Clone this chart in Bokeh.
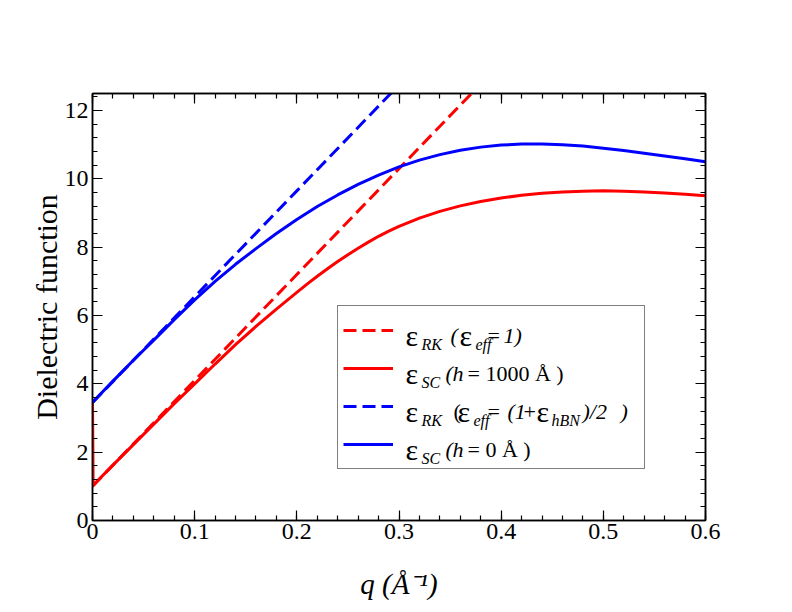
from bokeh.plotting import figure
from bokeh.models import (Range1d, LinearAxis, Legend, LegendItem, Label, FixedTicker)
from bokeh.embed import file_html
from bokeh.resources import INLINE

# ---------------- data ----------------
q_rk = [0.0, 0.1, 0.2, 0.3, 0.4]
eps_rk_vac = [1.0, 4.1, 7.2, 10.3, 13.4]          # eps_RK (eps_eff = 1)
eps_rk_hbn = [3.45, 6.55, 9.65, 12.75, 15.85]     # eps_RK (eps_eff = (1+eps_hBN)/2)

q_sc1000 = [0.0, 0.0003, 0.0006, 0.02, 0.05, 0.08, 0.10, 0.12, 0.14, 0.16,
            0.18, 0.20, 0.21, 0.22, 0.23, 0.24, 0.25, 0.26, 0.27, 0.28,
            0.29, 0.30, 0.32, 0.34, 0.36, 0.38, 0.40, 0.42, 0.44, 0.46,
            0.48, 0.50, 0.52, 0.54, 0.56, 0.58, 0.60]
eps_sc1000 = [3.45, 2.35, 1.03, 1.62, 2.52, 3.42, 4.0, 4.58, 5.15, 5.68,
              6.19, 6.68, 6.92, 7.15, 7.37, 7.58, 7.78, 7.97, 8.15, 8.32,
              8.47, 8.61, 8.85, 9.05, 9.21, 9.34, 9.44, 9.52, 9.58, 9.62,
              9.64, 9.65, 9.64, 9.62, 9.59, 9.55, 9.51]

q_sc0 = [0.0, 0.02, 0.04, 0.06, 0.08, 0.10, 0.12, 0.14, 0.16, 0.18, 0.20,
         0.22, 0.24, 0.26, 0.28, 0.30, 0.32, 0.34, 0.36, 0.38, 0.40, 0.42,
         0.44, 0.46, 0.48, 0.50, 0.52, 0.54, 0.56, 0.58, 0.60]
eps_sc0 = [3.46, 4.08, 4.69, 5.28, 5.88, 6.46, 7.0, 7.5, 7.96, 8.4, 8.81,
           9.19, 9.53, 9.84, 10.11, 10.35, 10.55, 10.71, 10.84, 10.93, 10.99, 11.02,
           11.02, 11.0, 10.96, 10.9, 10.83, 10.75, 10.67, 10.59, 10.5]

x_ticks = [0.0, 0.1, 0.2, 0.3, 0.4, 0.5, 0.6]
x_tick_labels = ["0", "0.1", "0.2", "0.3", "0.4", "0.5", "0.6"]
y_ticks = [0, 2, 4, 6, 8, 10, 12]
y_tick_labels = ["0", "2", "4", "6", "8", "10", "12"]

x_label = "q (Å⁻¹)"
y_label = "Dielectric function"

FONT = "Liberation Serif"

p = figure(frame_width=613, frame_height=427,
           min_border_left=92, min_border_right=80,
           min_border_top=93, min_border_bottom=84,
           x_range=Range1d(0, 0.6), y_range=Range1d(0, 12.5),
           output_backend="svg", toolbar_location=None,
           x_axis_label=x_label, y_axis_label=y_label)
p.grid.visible = False
p.outline_line_color = "black"
p.outline_line_width = 1.5
p.background_fill_color = "white"
p.border_fill_color = "white"

# mirrored axes on top/right
p.add_layout(LinearAxis(), "above")
p.add_layout(LinearAxis(), "right")

x_minor = [i * 0.02 for i in range(31)]
y_minor = [i * 0.4 for i in range(32)]
for ax in p.xaxis:
    ax.ticker = FixedTicker(ticks=x_ticks, minor_ticks=x_minor)
    ax.major_label_overrides = dict(zip(x_ticks, x_tick_labels))
for ax in p.yaxis:
    ax.ticker = FixedTicker(ticks=y_ticks, minor_ticks=y_minor)
    ax.major_label_overrides = dict(zip(y_ticks, y_tick_labels))

for ax in p.xaxis + p.yaxis:
    ax.axis_line_color = "black"
    ax.axis_line_width = 1.5
    ax.major_tick_in = 10
    ax.major_tick_out = 0
    ax.minor_tick_in = 5
    ax.minor_tick_out = 0
    ax.major_tick_line_width = 1.2
    ax.minor_tick_line_width = 1.2
    ax.major_label_text_font = FONT
    ax.major_label_text_font_size = "24px"
    ax.major_label_text_color = "black"
    ax.axis_label_text_font = FONT
    ax.axis_label_text_color = "black"

p.above[0].major_label_text_color = None
p.right[0].major_label_text_color = None

p.below[0].major_label_standoff = 3
p.below[0].axis_label_text_font_size = "29px"
p.below[0].axis_label_text_font_style = "italic"
p.below[0].axis_label_standoff = 26
p.left[0].major_label_standoff = 4
p.left[0].axis_label_text_font_size = "30px"
p.left[0].axis_label_text_font_style = "normal"
p.left[0].axis_label_standoff = -1

# ---------------- curves ----------------
r1 = p.line(q_rk, eps_rk_vac, line_color="red", line_width=3, line_dash="13 6")
r2 = p.line(q_sc1000, eps_sc1000, line_color="red", line_width=3)
r3 = p.line(q_rk, eps_rk_hbn, line_color="blue", line_width=3, line_dash="13 6")
r4 = p.line(q_sc0, eps_sc0, line_color="blue", line_width=3)

legend = Legend(items=[LegendItem(label=" ", renderers=[r]) for r in (r1, r2, r3, r4)],
                location=(245, 51), margin=0, padding=5, spacing=0,
                glyph_width=50, glyph_height=38, label_height=38,
                label_width=236, label_standoff=10,
                border_line_color="black", border_line_width=1.5,
                background_fill_color="white", background_fill_alpha=0.0,
                label_text_font=FONT, label_text_font_size="22px")
p.add_layout(legend)

# ---------------- legend texts (rich text built from pieces) ----------------
legend_pieces = [
    ("ε", 313, 0, "eps"), ("RK", 329, 0, "sub"), ("(", 358, 0, "it"),
    ("ε", 367, 0, "eps"), ("eff", 383, 0, "sub"), ("=", 395, 0, "up"),
    ("1)", 411, 0, "it"),
    ("ε", 313, 1, "eps"), ("SC", 329, 1, "sub"), ("(", 353, 1, "it"),
    ("h", 360, 1, "it"), ("= 1000 Å )", 375, 1, "up"),
    ("ε", 313, 2, "eps"), ("RK", 329, 2, "sub"), ("(", 361, 2, "up"),
    ("ε", 365, 2, "eps"), ("eff", 381, 2, "sub"), ("=", 395, 2, "up"),
    ("(1", 415, 2, "it"), ("+", 431, 2, "up"), ("ε", 444, 2, "eps"),
    ("hBN", 459, 2, "sub"), (")/2", 490, 2, "it"), (")", 528, 2, "it"),
    ("ε", 313, 3, "eps"), ("SC", 329, 3, "sub"), ("(", 353, 3, "it"),
    ("h", 360, 3, "it"), ("= 0 Å )", 375, 3, "up"),
]
row_base = [185, 147, 109, 71]
for txt, x, row, kind in legend_pieces:
    y = row_base[row]
    size, style = "22px", "normal"
    if kind == "eps":
        size = "30px"
    elif kind == "sub":
        size, style, y = "16px", "italic", y - 9
    elif kind == "it":
        style = "italic"
    p.add_layout(Label(x=x, y=y, x_units="screen", y_units="screen", text=txt,
                       text_font=FONT, text_font_size=size, text_font_style=style,
                       text_color="black", text_baseline="alphabetic",
                       text_align="left"))

open("out.html", "w").write(file_html(p, INLINE))
